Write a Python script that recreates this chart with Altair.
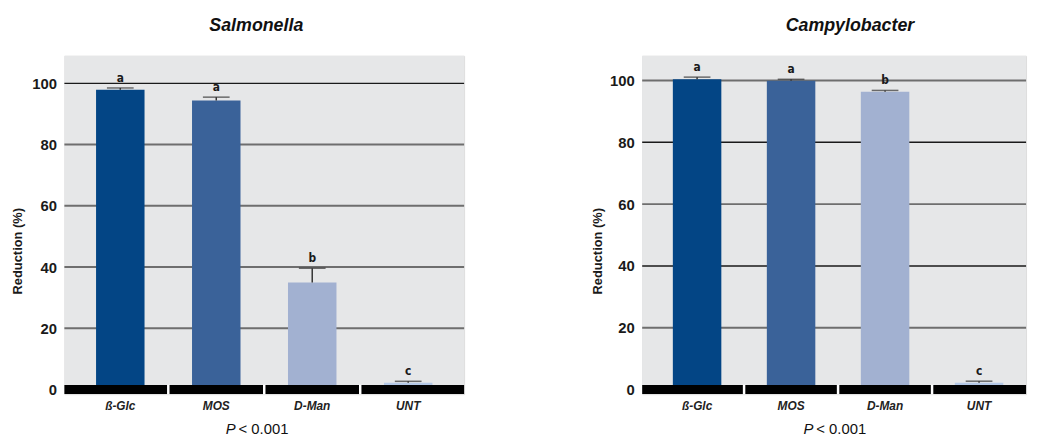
import altair as alt
import pandas as pd

categories = ["ß-Glc", "MOS", "D-Man", "UNT"]
bar_colors = ["#034585", "#3a6299", "#a2b1d1", "#b4c8e6"]

sal_values = [97.9, 94.4, 35.0, 2.2]
sal_errors = [0.6, 1.1, 4.6, 0.5]
sal_letters = ["a", "a", "b", "c"]

camp_values = [100.4, 99.9, 96.4, 2.2]
camp_errors = [0.7, 0.5, 0.4, 0.5]
camp_letters = ["a", "a", "b", "c"]

grid_values = [20, 40, 60, 80, 100]
sal_grid_colors = ["#6e6e6e", "#6e6e6e", "#6e6e6e", "#6e6e6e", "#1a1a1a"]
camp_grid_colors = ["#6e6e6e", "#1a1a1a", "#6e6e6e", "#1a1a1a", "#6e6e6e"]
tick_values = [0, 20, 40, 60, 80, 100]

FONT = "Liberation Sans"
NARROW = "Liberation Sans Narrow, DejaVu Sans Condensed, Liberation Sans"
H = 342


def panel(values, errors, letters, grid_colors, ydomain, title, title_x, ytitle_x,
          W, pad_outer, align):
    df = pd.DataFrame({
        "cat": categories,
        "val": values,
        "hi": [v + e for v, e in zip(values, errors)],
        "letter": letters,
        "color": bar_colors,
    })
    gdf = pd.DataFrame({
        "v": grid_values,
        "c": grid_colors,
        "w": [1.5 if c == "#1a1a1a" else 2.0 for c in grid_colors],
    })
    yscale = alt.Scale(domain=ydomain, nice=False, zero=False)
    yaxis = alt.Axis(values=tick_values, grid=False, domain=False, ticks=False,
                     labelPadding=8, labelFont=FONT, labelFontSize=15,
                     labelFontWeight="bold", labelColor="#1a1a1a",
                     titleFont=FONT, titleFontSize=13, titleFontWeight="bold",
                     titleColor="#1a1a1a", titleAngle=270, titleX=ytitle_x,
                     titleY=197, titleAlign="center", titleBaseline="middle")
    T = "Reduction (%)"
    xscale = alt.Scale(paddingInner=0, paddingOuter=pad_outer, align=align)
    xenc = alt.X(
        "cat:N", sort=categories, title=None, scale=xscale,
        axis=alt.Axis(domain=False, ticks=False, labelPadding=6,
                      labelFont=FONT, labelFontSize=12, labelFontWeight="bold",
                      labelFontStyle="italic", labelColor="#222", labelAngle=0),
    )
    bg = alt.Chart(pd.DataFrame({"k": [0]})).mark_rect(color="#e6e7e8").encode(
        x=alt.value(0), x2=alt.value(W), y=alt.value(0), y2=alt.value(H)
    )
    grid = alt.Chart(gdf).mark_rule().encode(
        y=alt.Y("v:Q", scale=yscale, title=T, axis=yaxis),
        color=alt.Color("c:N", scale=None),
        strokeWidth=alt.StrokeWidth("w:Q", scale=None),
    )
    base = alt.Chart(df).encode(x=xenc)
    bars = base.mark_bar(size=49).encode(
        y=alt.Y("val:Q", scale=yscale, axis=yaxis, title=T),
        color=alt.Color("color:N", scale=None),
    )
    err = base.mark_rule(color="#333333", strokeWidth=1.5).encode(
        y=alt.Y("val:Q", axis=yaxis, title=T), y2="hi:Q"
    )
    cap = base.mark_tick(color="#333333", thickness=1.5, size=27).encode(
        y=alt.Y("hi:Q", axis=yaxis, title=T)
    )
    lab = base.mark_text(baseline="bottom", dy=-3, font=NARROW, fontSize=12,
                         fontWeight="bold", color="#1a1a1a").encode(
        y=alt.Y("hi:Q", axis=yaxis, title=T), text="letter:N"
    )
    zero = alt.Chart(pd.DataFrame({"z": [0]})).mark_rule(color="black", strokeWidth=9).encode(
        y=alt.Y("z:Q", axis=yaxis, title=T)
    )
    gaps = alt.Chart(pd.DataFrame({"cat": categories[1:], "a": [-1.6] * 3, "b": [1.6] * 3})).mark_rule(
        color="white", strokeWidth=2.5
    ).encode(
        x=alt.X("cat:N", sort=categories, bandPosition=0, scale=xscale),
        y=alt.Y("a:Q", axis=yaxis, title=T), y2="b:Q",
    )
    ttl = alt.Chart(pd.DataFrame({"t": [title]})).mark_text(
        font=FONT, fontSize=18, fontWeight="bold", fontStyle="italic",
        align="center", baseline="alphabetic", color="#111"
    ).encode(x=alt.value(title_x), y=alt.value(-25), text="t:N")
    p1 = alt.Chart(pd.DataFrame({"t": ["P"]})).mark_text(
        font=FONT, fontSize=15, fontStyle="italic", align="left", baseline="alphabetic", color="#111"
    ).encode(x=alt.value(163), y=alt.value(382), text="t:N")
    p2 = alt.Chart(pd.DataFrame({"t": ["< 0.001"]})).mark_text(
        font=FONT, fontSize=15, align="left", baseline="alphabetic", color="#111"
    ).encode(x=alt.value(176), y=alt.value(382), text="t:N")
    return alt.layer(bg, grid, bars, err, cap, lab, zero, gaps, ttl, p1, p2).properties(width=W, height=H)


left = panel(sal_values, sal_errors, sal_letters, sal_grid_colors, [-1.5, 109], "Salmonella",
             194, -47, 404, 0.0825, 0.5)
right = panel(camp_values, camp_errors, camp_letters, camp_grid_colors, [-1.5, 108], "Campylobacter",
              210, -45, 388, 0.0421, 1.0)

chart = alt.hconcat(left, right, spacing=123).properties(
    padding={"left": 3, "top": 6, "right": 0, "bottom": 0}
).configure_view(stroke=None).configure(background="white")

chart.save("out.html", embed_options={"renderer": "svg", "actions": False})
